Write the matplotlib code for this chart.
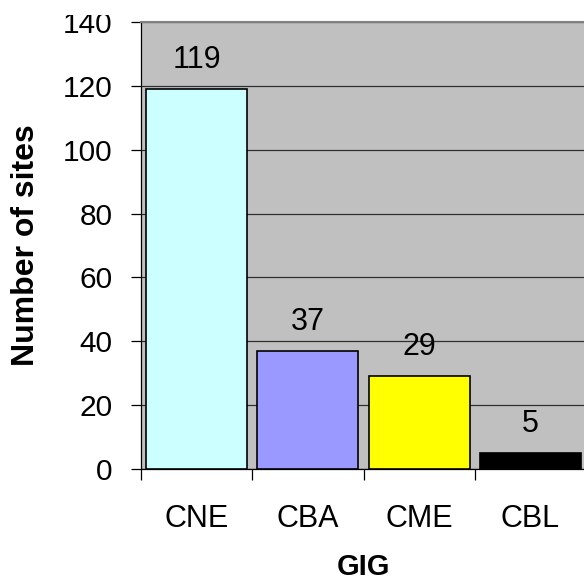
import matplotlib
matplotlib.use("Agg")
import matplotlib.pyplot as plt
from matplotlib.transforms import Bbox, TransformedBbox

categories = ["CNE", "CBA", "CME", "CBL"]
sites = [119, 37, 29, 5]
bar_colors = ["#CCFFFF", "#9999FF", "#FFFF00", "#000000"]
y_ticks = [0, 20, 40, 60, 80, 100, 120, 140]

plt.rcParams["font.family"] = ["Liberation Sans", "DejaVu Sans"]

W, H = 584, 583
fig = plt.figure(figsize=(W / 100, H / 100), dpi=100)
ax = fig.add_axes([141 / W, 1 - 469 / H, 445 / W, 447 / H])
ax.set_facecolor("#C0C0C0")

x = list(range(len(categories)))
ax.bar(x, sites, width=0.91, color=bar_colors, edgecolor="black", linewidth=1.2, zorder=3)

for xi, v in zip(x, sites):
    ax.annotate(str(v), (xi, v), xytext=(0, 21), textcoords="offset points",
                ha="center", va="center", fontsize=22, zorder=4)

ax.set_xlim(-0.5, len(categories) - 0.5)
ax.set_ylim(0, 140)
ax.set_yticks(y_ticks)
ax.grid(axis="y", color="#303030", linewidth=0.9, zorder=1)
ax.set_axisbelow(True)

ax.set_xticks(x)
ax.set_xticklabels(categories)
ax.set_xticks([i - 0.5 for i in range(len(categories) + 1)], minor=True)
ax.tick_params(axis="x", which="major", length=0, pad=25, labelsize=22)
ax.tick_params(axis="x", which="minor", length=8, width=0.9, direction="out")
ax.tick_params(axis="y", length=7, width=0.9, direction="out", pad=13.5, labelsize=21.5)

ax.spines["right"].set_visible(False)
ax.spines["top"].set_color("#808080")
ax.spines["top"].set_linewidth(1.5)
ax.spines["left"].set_linewidth(0.9)
ax.spines["bottom"].set_linewidth(0.9)

ax.set_xlabel("GIG", fontsize=21, fontweight="bold", labelpad=14)
ax.set_ylabel("Number of sites", fontsize=23, fontweight="bold", labelpad=16)

# the top tick label is trimmed at the upper edge of the canvas
clip = TransformedBbox(Bbox([[0, 0], [1, 1 - 15 / H]]), fig.transFigure)
for lbl in ax.get_yticklabels():
    if lbl.get_text() == "140":
        lbl.set_clip_box(clip)
        lbl.set_clip_on(True)

fig.savefig("out.png", dpi=100)
